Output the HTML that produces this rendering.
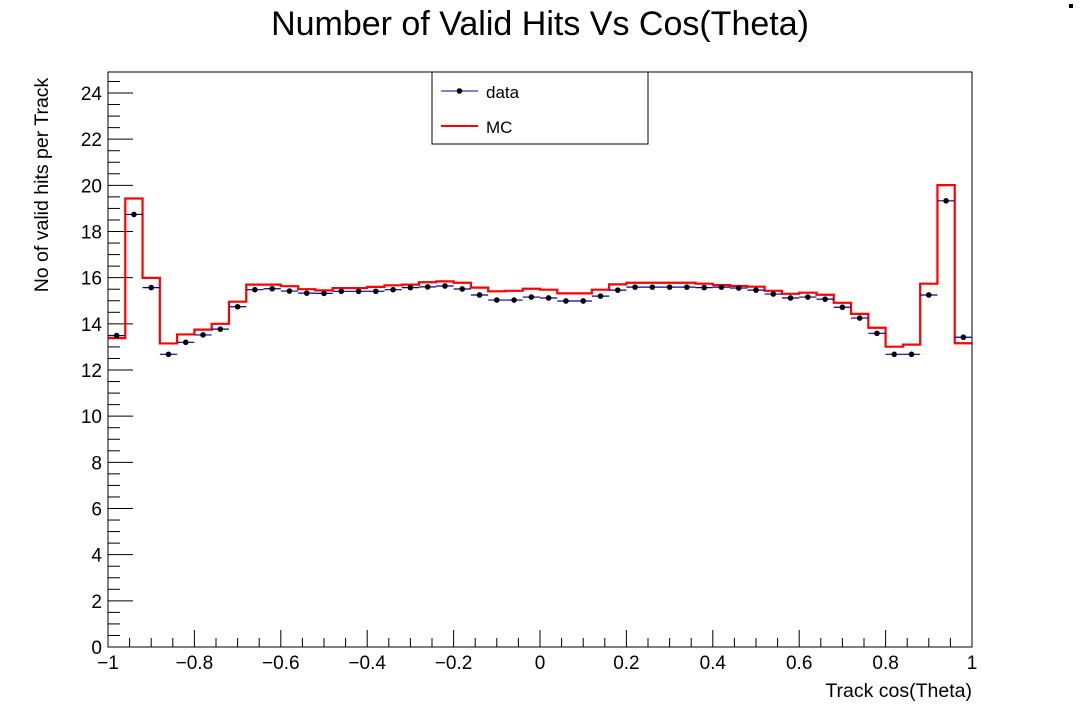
<!DOCTYPE html>
<html><head><meta charset="utf-8"><style>
html,body{margin:0;padding:0;background:#fff;}
svg{display:block;font-family:"Liberation Sans",sans-serif;}
</style></head><body>
<svg id="chart" width="1080" height="720" viewBox="0 0 1080 720">
<rect width="1080" height="720" fill="#fff"/>
<rect x="1069" y="4" width="4" height="4" fill="#000"/>
<text x="540" y="35" text-anchor="middle" font-size="34">Number of Valid Hits Vs Cos(Theta)</text>
<g id="axes"></g>
<g id="marks"></g>
<rect x="108" y="72" width="864" height="575" fill="none" stroke="#000" stroke-width="1"/>
<text x="972" y="697" text-anchor="end" font-size="19.5">Track cos(Theta)</text>
<text transform="translate(48,185) rotate(-90)" text-anchor="middle" font-size="19.5">No of valid hits per Track</text>
<g>
<rect x="432" y="72" width="216" height="72" fill="#fff" stroke="#000" stroke-width="1"/>
<g>
<line x1="441" y1="91" x2="478" y2="91" stroke="#000099" stroke-width="1"/>
<circle cx="459.5" cy="91" r="2.8" fill="#000"/>
<text x="486" y="98" font-size="17">data</text>
</g>
<g>
<line x1="441" y1="126" x2="478" y2="126" stroke="#ff0000" stroke-width="2"/>
<text x="486" y="133" font-size="17">MC</text>
</g>
</g>
</svg>
<script>
const xMin=-1, xMax=1, yMin=0, yMax=24.91;
const dataValues=[13.49,18.74,15.57,12.68,13.2,13.52,13.77,14.74,15.48,15.52,15.42,15.33,15.32,15.41,15.41,15.41,15.48,15.57,15.6,15.64,15.51,15.25,15.03,15.03,15.16,15.12,14.99,14.99,15.2,15.46,15.59,15.59,15.59,15.59,15.57,15.59,15.55,15.46,15.29,15.12,15.16,15.07,14.72,14.25,13.59,12.68,12.68,15.25,19.33,13.42];
const mcValues=[13.38,19.43,15.99,13.15,13.54,13.75,14.0,14.96,15.7,15.7,15.63,15.5,15.45,15.55,15.55,15.6,15.67,15.7,15.8,15.84,15.78,15.57,15.41,15.43,15.52,15.48,15.32,15.32,15.48,15.71,15.78,15.78,15.78,15.78,15.74,15.68,15.64,15.61,15.43,15.3,15.35,15.26,14.91,14.43,13.83,13.01,13.1,15.74,20.01,13.16];
const xTickLabels=["−1","−0.8","−0.6","−0.4","−0.2","0","0.2","0.4","0.6","0.8","1"];
const yTickLabels=["0","2","4","6","8","10","12","14","16","18","20","22","24"];
const L=108,R=972,T=72,B=647;
const sx=v=>L+(v-xMin)/(xMax-xMin)*(R-L);
const sy=v=>B-(v-yMin)/(yMax-yMin)*(B-T);
const NS="http://www.w3.org/2000/svg";
const axes=document.getElementById('axes'), marks=document.getElementById('marks');
function mk(tag,attrs,parent){const e=document.createElementNS(NS,tag);for(const k in attrs)e.setAttribute(k,attrs[k]);parent.appendChild(e);return e;}
for(let i=0;i<=40;i++){const v=xMin+i*0.05;const X=sx(v);const major=i%4===0;
 const t=mk('line',{x1:X,x2:X,y1:B,y2:B-(major?17:9),stroke:'#000','stroke-width':1},axes);
 
 }
xTickLabels.forEach((s,i)=>{const t=mk('text',{x:sx(xMin+i*0.2),y:B+22,'text-anchor':'middle','font-size':19},axes);t.textContent=s;
 
 });
for(let i=0;i<=49;i++){const v=i*0.5;const Y=sy(v);const major=i%4===0;
 const t=mk('line',{x1:L,x2:L+(major?25:12),y1:Y,y2:Y,stroke:'#000','stroke-width':1},axes);
 
 }
yTickLabels.forEach((s,i)=>{const t=mk('text',{x:L-6,y:sy(i*2)+7,'text-anchor':'end','font-size':19},axes);t.textContent=s;
 
 });
const n=mcValues.length, w=(xMax-xMin)/n;
let d='M'+sx(xMin)+','+sy(mcValues[0]);
mcValues.forEach((v,i)=>{d+=' L'+sx(xMin+i*w)+','+sy(v)+' L'+sx(xMin+(i+1)*w)+','+sy(v);});
const mc=mk('path',{d:d,fill:'none',stroke:'#ff0000','stroke-width':2.2},marks);


const dw=(xMax-xMin)/dataValues.length;
dataValues.forEach((v,i)=>{
 const g=mk('g',{},marks);
 
 
 mk('line',{x1:sx(xMin+i*dw),x2:sx(xMin+(i+1)*dw),y1:sy(v),y2:sy(v),stroke:'#000099','stroke-width':1.2},g);
 mk('circle',{cx:sx(xMin+(i+0.5)*dw),cy:sy(v),r:2.8,fill:'#000'},g);
});
</script>
</body></html>
